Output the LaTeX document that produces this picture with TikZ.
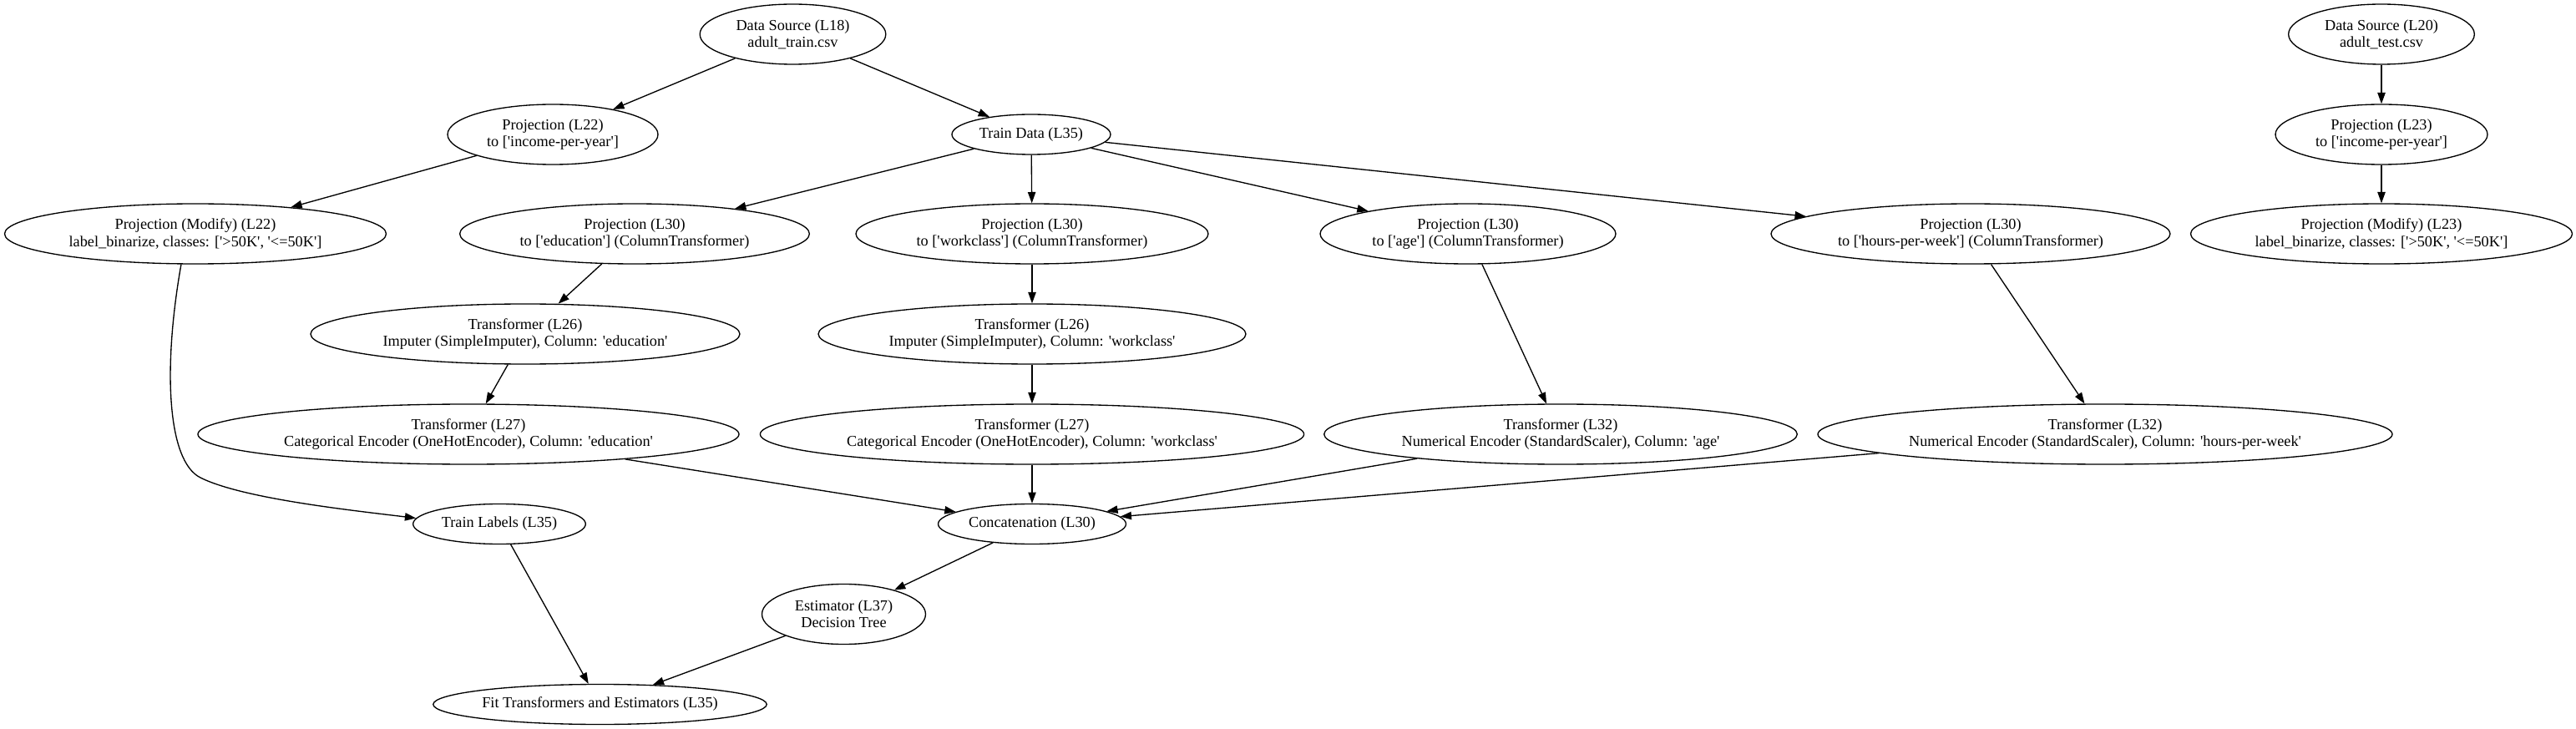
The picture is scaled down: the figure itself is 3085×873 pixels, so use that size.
\documentclass[tikz,border=0pt]{standalone}
\usepackage{fontspec}
\setmainfont{Liberation Serif}
\usetikzlibrary{arrows.meta,shapes.geometric}
\newcommand\sq{\textquotesingle}
\begin{document}
\begin{tikzpicture}[x=0.75pt,y=-0.75pt,
  nd/.style={draw,ellipse,inner sep=0pt,line width=1pt,align=center,font=\fontsize{13.7}{15.2}\selectfont},
  two/.style={nd,minimum height=54pt},
  one/.style={nd,minimum height=36pt},
  arr/.style={draw,line width=1pt,-{Triangle[length=10pt,width=7pt]}}]
\useasboundingbox (0,0) rectangle (3085,873);
\node[two,minimum width=167pt] (ds18) at (949.5,41) {Data Source (L18)\\adult\_train.csv};
\node[two,minimum width=167pt] (ds20) at (2852,41) {Data Source (L20)\\adult\_test.csv};
\node[two,minimum width=189pt] (p22) at (662,161) {Projection (L22)\\to [\sq income-per-year\sq]};
\node[one,minimum width=142.5pt] (train) at (1235,161) {Train Data (L35)};
\node[two,minimum width=190.5pt] (p23) at (2852,161) {Projection (L23)\\to [\sq income-per-year\sq]};
\node[two,minimum width=342.75pt] (pm22) at (234,280) {Projection (Modify) (L22)\\label\_binarize, classes: [\sq>50K\sq, \sq<=50K\sq]};
\node[two,minimum width=314pt] (p30e) at (760,280) {Projection (L30)\\to [\sq education\sq] (ColumnTransformer)};
\node[two,minimum width=316.5pt] (p30w) at (1236,280) {Projection (L30)\\to [\sq workclass\sq] (ColumnTransformer)};
\node[two,minimum width=265.5pt] (p30a) at (1758,280) {Projection (L30)\\to [\sq age\sq] (ColumnTransformer)};
\node[two,minimum width=358.5pt] (p30h) at (2360,280) {Projection (L30)\\to [\sq hours-per-week\sq] (ColumnTransformer)};
\node[two,minimum width=342.75pt] (pm23) at (2852,280) {Projection (Modify) (L23)\\label\_binarize, classes: [\sq>50K\sq, \sq<=50K\sq]};
\node[two,minimum width=385.5pt] (t26e) at (629,400) {Transformer (L26)\\Imputer (SimpleImputer), Column: \sq education\sq};
\node[two,minimum width=384pt] (t26w) at (1236,400) {Transformer (L26)\\Imputer (SimpleImputer), Column: \sq workclass\sq};
\node[two,minimum width=486pt] (t27e) at (561,520) {Transformer (L27)\\Categorical Encoder (OneHotEncoder), Column: \sq education\sq};
\node[two,minimum width=488.4pt] (t27w) at (1236,520) {Transformer (L27)\\Categorical Encoder (OneHotEncoder), Column: \sq workclass\sq};
\node[two,minimum width=425pt] (t32a) at (1869,520) {Transformer (L32)\\Numerical Encoder (StandardScaler), Column: \sq age\sq};
\node[two,minimum width=516pt] (t32h) at (2521,520) {Transformer (L32)\\Numerical Encoder (StandardScaler), Column: \sq hours-per-week\sq};
\node[one,minimum width=155pt] (labels) at (598,627.5) {Train Labels (L35)};
\node[one,minimum width=168.75pt] (concat) at (1236,627.5) {Concatenation (L30)};
\node[two,minimum width=147pt] (est) at (1010.5,735.5) {Estimator (L37)\\Decision Tree};
\node[one,minimum width=297.75pt] (fit) at (718.5,843.5) {Fit Transformers and Estimators (L35)};
\draw[arr] (ds18) -- (p22);
\draw[arr] (ds18) -- (train);
\draw[arr] (p22) -- (pm22);
\draw[arr] (pm22.245) .. controls (195,440) and (200,552) .. (240,572) .. controls (290,597) and (420,611) .. (labels.176);
\draw[arr] (train) -- (p30e);
\draw[arr] (train) -- (p30w);
\draw[arr] (train) -- (p30a);
\draw[arr] (train) -- (p30h);
\draw[arr] (p30e) -- (t26e);
\draw[arr] (t26e) -- (t27e);
\draw[arr] (t27e) -- (concat);
\draw[arr] (p30w) -- (t26w);
\draw[arr] (t26w) -- (t27w);
\draw[arr] (t27w) -- (concat);
\draw[arr] (p30a) -- (t32a);
\draw[arr] (t32a) -- (concat);
\draw[arr] (p30h) -- (t32h);
\draw[arr] (t32h) -- (concat);
\draw[arr] (concat) -- (est);
\draw[arr] (labels) -- (fit);
\draw[arr] (est) -- (fit);
\draw[arr] (ds20) -- (p23);
\draw[arr] (p23) -- (pm23);
\end{tikzpicture}
\end{document}
